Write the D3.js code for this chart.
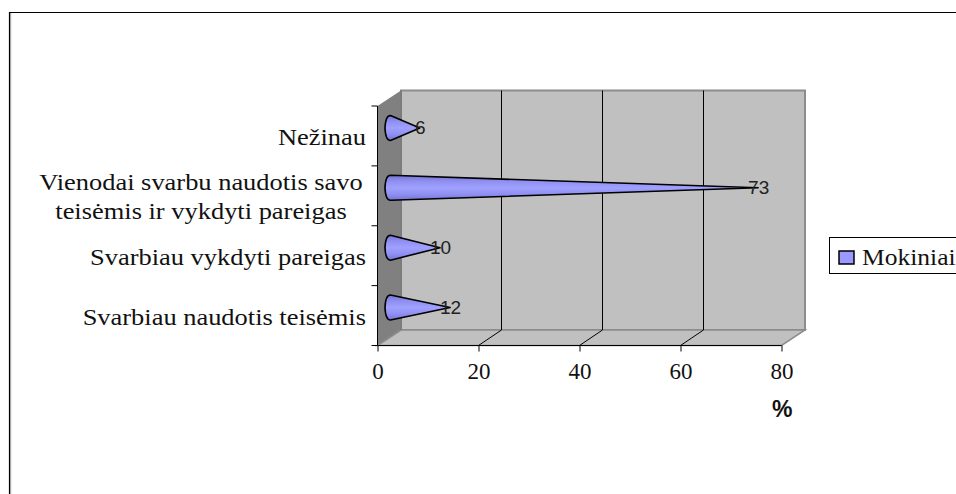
<!DOCTYPE html>
<html><head><meta charset="utf-8">
<script src="https://cdn.jsdelivr.net/npm/d3@7"></script>
<style>html,body{margin:0;padding:0;background:#fff}svg{display:block}
.serif{font-family:"Liberation Serif",serif;font-size:23px;fill:#111}
.sans{font-family:"Liberation Sans",sans-serif;font-size:19px;fill:#222}</style>
</head><body><script>
const categories=["Svarbiau naudotis teisėmis","Svarbiau vykdyti pareigas","Vienodai svarbu naudotis savo|teisėmis ir vykdyti pareigas","Nežinau"];
const values=[12,10,73,6];
const xTicks=[0,20,40,60,80];
const seriesName="Mokiniai";
const axisUnit="%";

const W=956,H=494,dx=23.5,dy=-15.5;
const svg=d3.select("body").append("svg").attr("width",W).attr("height",H);
const x=d3.scaleLinear().domain([0,80]).range([377.5,781.5]);
const y=d3.scaleBand().domain(categories).range([345.5,106]);
const yTop=y.range()[1],bot=y.range()[0],x0=x(0),x1=x(80);

const defs=svg.append("defs");
const g=defs.append("linearGradient").attr("id","cone").attr("x1",0).attr("y1",0).attr("x2",0).attr("y2",1);
[[0,"#7474d4"],[.25,"#9090f2"],[.5,"#a0a0ff"],[.75,"#9090f2"],[1,"#7474d4"]].forEach(s=>g.append("stop").attr("offset",s[0]).attr("stop-color",s[1]));

// chart frame
svg.append("path").attr("d",`M9.5,${H}V12.5H${W}`).attr("fill","none").attr("stroke","#000").attr("stroke-width",1.2);
svg.append("line").attr("x1",10.7).attr("x2",10.7).attr("y1",13).attr("y2",H).attr("stroke","#999").attr("stroke-width",1);

// 3D walls
const P=a=>a.map(p=>p.join(",")).join(" ");
svg.append("polygon").attr("points",P([[x0,yTop],[x0+dx,yTop+dy],[x0+dx,bot+dy],[x0,bot]])).attr("fill","#808080");
svg.append("polygon").attr("points",P([[x0+dx,yTop+dy],[x1+dx,yTop+dy],[x1+dx,bot+dy],[x0+dx,bot+dy]])).attr("fill","#c0c0c0").attr("stroke","#8c8c8c").attr("stroke-width",2);
svg.append("polygon").attr("points",P([[x0,bot],[x0+dx,bot+dy],[x1+dx,bot+dy],[x1,bot]])).attr("fill","#c0c0c0").attr("stroke","#8c8c8c").attr("stroke-width",1.5);
svg.append("line").attr("x1",x0+dx).attr("x2",x0+dx).attr("y1",yTop+dy).attr("y2",bot+dy).attr("stroke","#777").attr("stroke-width",1.5);

// gridlines on the wall and floor
xTicks.slice(1,-1).forEach(t=>{
  svg.append("path").attr("d",`M${x(t)},${bot}L${x(t)+dx-0.5},${bot+dy}V${yTop+dy}`).attr("fill","none").attr("stroke","#000").attr("stroke-width",1);
});

// axes
const ax=svg.append("g").attr("transform",`translate(0,${bot})`).call(d3.axisBottom(x).tickValues(xTicks).tickSize(6).tickFormat(d3.format("d")));
ax.select(".domain").attr("stroke","#000").attr("d",`M${x0},0H${x1}`);
ax.selectAll("text").attr("class","serif").attr("y",33.5).attr("dy",0).attr("fill",null);
ax.attr("font-family",null).attr("font-size",null);
ax.selectAll(".tick line").attr("stroke","#000");

const edges=[...categories.map(c=>y(c)+y.bandwidth()),yTop];
svg.append("line").attr("x1",x0).attr("x2",x0).attr("y1",yTop).attr("y2",bot).attr("stroke","#000");
svg.selectAll(".ytick").data(edges).join("line").attr("class","ytick").attr("x1",x0-6).attr("x2",x0).attr("y1",d=>d).attr("y2",d=>d).attr("stroke","#000");

// category labels (the source text is stretched horizontally)
const stretch=1.15;
categories.forEach(c=>{
  const lines=c.split("|"),cy=y(c)+y.bandwidth()/2;
  lines.forEach((l,i)=>{
    const two=lines.length>1;
    const yy=two?cy+(i?23:-5.6):cy+9.5;
    const xx=two?201:366;
    svg.append("text").attr("class","serif")
      .attr("transform",`translate(${xx},${yy}) scale(${stretch},1)`)
      .attr("text-anchor",two?"middle":"end").text(l);
  });
});

// cones
const ry=12.5,ox=12,oy=-8;
categories.forEach((c,i)=>{
  const cy=y(c)+y.bandwidth()/2+oy, bx=x0+ox, tip=x(values[i])+ox;
  svg.append("path")
    .attr("d",`M${bx+1},${cy-ry}L${tip},${cy}L${bx+1},${cy+ry}Q${bx-4},${cy+ry} ${bx-4.5},${cy}Q${bx-4},${cy-ry} ${bx+1},${cy-ry}Z`)
    .attr("fill","url(#cone)").attr("stroke","#000").attr("stroke-width",1.6).attr("stroke-linejoin","round");
  svg.append("text").attr("class","sans").attr("x",tip+0.5).attr("y",cy+6.5).attr("text-anchor","middle").text(values[i]);
});

// axis unit
svg.append("text").attr("x",772).attr("y",417).attr("style",'font-family:"Liberation Sans",sans-serif;font-size:23px;font-weight:bold').attr("fill","#111").text(axisUnit);

// legend
svg.append("rect").attr("x",829.5).attr("y",237.5).attr("width",140).attr("height",36).attr("fill","#fff").attr("stroke","#000");
svg.append("rect").attr("x",839).attr("y",251).attr("width",15).attr("height",13).attr("fill","#9999ff").attr("stroke","#000").attr("stroke-width",1.5);
svg.append("text").attr("class","serif").attr("transform","translate(862,265) scale(1.11,1)").text(seriesName);
</script></body></html>
